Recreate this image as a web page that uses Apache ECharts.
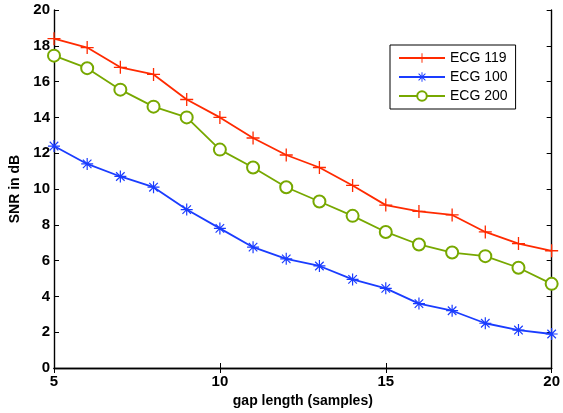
<!DOCTYPE html>
<html lang="en">
<head>
    <meta charset="UTF-8">
    <title>index</title>
    <script src="https://cdn.jsdelivr.net/npm/echarts@6/dist/echarts.min.js"></script>
    <style>
        html,body{margin:0;padding:0;background:#fff;}
        #chart{width:563px;height:413px;}
    </style>
</head>
<body>
<div id="chart"></div>
<script>
    // gap lengths (samples)
    var gapLength = [5, 6, 7, 8, 9, 10, 11, 12, 13, 14, 15, 16, 17, 18, 19, 20];
    // SNR in dB
    var ecg119 = [18.4, 17.9, 16.8, 16.4, 15.0, 14.0, 12.85, 11.9, 11.2, 10.2, 9.1, 8.75, 8.55, 7.6, 6.95, 6.55];
    var ecg100 = [12.4, 11.4, 10.7, 10.1, 8.85, 7.8, 6.75, 6.1, 5.7, 4.95, 4.45, 3.6, 3.2, 2.5, 2.12, 1.9];
    var ecg200 = [17.45, 16.75, 15.55, 14.6, 14.0, 12.2, 11.2, 10.1, 9.3, 8.5, 7.6, 6.9, 6.45, 6.25, 5.6, 4.7];
    var seriesNames = ['ECG 119', 'ECG 100', 'ECG 200'];
    var xTicks = [5, 10, 15, 20];
    var yTicks = [0, 2, 4, 6, 8, 10, 12, 14, 16, 18, 20];

    function pairs(ys) {
        return gapLength.map(function (x, i) { return [x, ys[i]]; });
    }

    // marker shapes
    var plusPath = 'path://M9,0H11V20H9ZM0,9H20V11H0Z';
    var starPath = 'path://M9,0H11V20H9ZM0,9H20V11H0Z' +
        'M3.6,2.2L17.8,16.4L16.4,17.8L2.2,3.6Z' +
        'M16.4,2.2L17.8,3.6L3.6,17.8L2.2,16.4Z';

    var font = 'Liberation Sans, Arial, Helvetica, sans-serif';
    var axisCommon = {
        axisLine: {show: true, lineStyle: {color: '#000', width: 1.4}},
        axisTick: {show: true, inside: true, length: 5, lineStyle: {color: '#000', width: 1}},
        splitLine: {show: false}
    };

    var chart = echarts.init(document.getElementById('chart'));
    chart.setOption({
        animation: false,
        backgroundColor: '#fff',
        grid: {left: 54, right: 11, top: 10, bottom: 41},
        legend: {
            left: 390, top: 45,
            orient: 'vertical',
            data: seriesNames,
            backgroundColor: '#fff',
            borderColor: '#000',
            borderWidth: 1,
            padding: [6, 8, 6, 8],
            itemGap: 5,
            itemWidth: 46,
            itemHeight: 12,
            textStyle: {fontFamily: font, fontSize: 14, color: '#000'}
        },
        xAxis: [
            Object.assign({
                type: 'value', min: xTicks[0], max: xTicks[xTicks.length - 1], interval: 5,
                name: 'gap length (samples)', nameLocation: 'middle', nameGap: 26,
                nameTextStyle: {fontFamily: font, fontSize: 14, fontWeight: 'bold', color: '#000'},
                axisLabel: {fontFamily: font, fontSize: 15, fontWeight: 'bold', color: '#000', margin: 6}
            }, axisCommon),
            Object.assign({
                type: 'value', position: 'top', min: 5, max: 20, interval: 5,
                axisLabel: {show: false}
            }, axisCommon)
        ],
        yAxis: [
            Object.assign({
                type: 'value', min: yTicks[0], max: yTicks[yTicks.length - 1], interval: 2,
                name: 'SNR in dB', nameLocation: 'middle', nameGap: 30,
                nameTextStyle: {fontFamily: font, fontSize: 14, fontWeight: 'bold', color: '#000'},
                axisLabel: {fontFamily: font, fontSize: 15, fontWeight: 'bold', color: '#000', margin: 4}
            }, axisCommon),
            Object.assign({
                type: 'value', position: 'right', min: 0, max: 20, interval: 2,
                axisLabel: {show: false}
            }, axisCommon)
        ],
        series: [
            {
                name: seriesNames[0], type: 'line', data: pairs(ecg119),
                symbol: plusPath, symbolSize: 13,
                lineStyle: {color: '#ff2a00', width: 1.8},
                itemStyle: {color: '#ff2a00', borderWidth: 0}
            },
            {
                name: seriesNames[1], type: 'line', data: pairs(ecg100),
                symbol: starPath, symbolSize: 12,
                lineStyle: {color: '#1a3cff', width: 1.8},
                itemStyle: {color: '#1a3cff', borderWidth: 0}
            },
            {
                name: seriesNames[2], type: 'line', data: pairs(ecg200),
                symbol: 'emptyCircle', symbolSize: 12,
                lineStyle: {color: '#77a800', width: 1.8},
                itemStyle: {color: '#77a800', borderColor: '#77a800', borderWidth: 2}
            }
        ]
    });
</script>
</body>
</html>
